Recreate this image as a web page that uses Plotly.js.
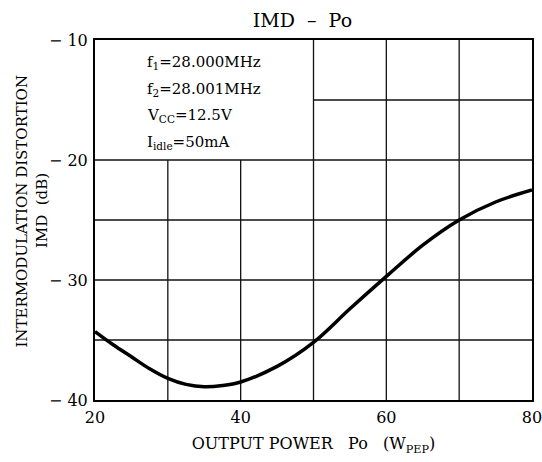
<!DOCTYPE html>
<html><head><meta charset="utf-8">
<script src="https://cdn.plot.ly/plotly-3.0.1.min.js"></script>
<style>html,body{margin:0;padding:0;background:#fff}</style>
</head><body>
<div id="chart" style="width:542px;height:462px"></div>
<script>
const powerW = [20, 22.5, 25, 27.5, 30, 32.5, 35, 37.5, 40, 45, 50, 55, 60, 65, 70, 75, 80];
const imdDb  = [-34.3, -35.4, -36.4, -37.4, -38.2, -38.7, -38.9, -38.8, -38.5, -37.2, -35.2, -32.4, -29.7, -27.1, -25.0, -23.5, -22.5];
const xTicks = [20, 40, 60, 80];
const yTicks = [-10, -20, -30, -40];
const yTickText = ['\u2212 10', '\u2212 20', '\u2212 30', '\u2212 40'];
const conditions = ['f<sub>1</sub>=28.000MHz', 'f<sub>2</sub>=28.001MHz', 'V<sub>CC</sub>=12.5V', 'I<sub>idle</sub>=50mA'];
const conditionY = [-11.9, -14.1, -16.3, -18.5];
const yTitleLines = ['INTERMODULATION DISTORTION', 'IMD  (dB)'];

const font = 'Century Schoolbook, "DejaVu Serif", "Liberation Serif", serif';

const trace = {
  x: powerW, y: imdDb, type: 'scatter', mode: 'lines',
  line: {color: '#000', width: 3.5, shape: 'spline', smoothing: 1},
  hoverinfo: 'skip', cliponaxis: true
};

const annotations = conditions.map((t, i) => ({
  x: 26.8, y: conditionY[i], xref: 'x', yref: 'y', text: t, showarrow: false,
  xanchor: 'left', yanchor: 'middle', font: {family: font, size: 15, color: '#000'}
}));
const yTitleX = [-0.168, -0.121];
yTitleLines.forEach((t, i) => annotations.push({
  xref: 'paper', yref: 'paper', x: yTitleX[i], y: 0.525, text: t,
  textangle: -90, showarrow: false, xanchor: 'center', yanchor: 'middle',
  font: {family: font, size: 15, color: '#000'}
}));

const layout = {
  width: 542, height: 462,
  margin: {l: 95, r: 10, t: 40, b: 62},
  paper_bgcolor: '#fff', plot_bgcolor: '#fff',
  showlegend: false,
  title: {text: 'IMD  \u2013  Po', font: {family: font, size: 19, color: '#000'}, x: 0.558, xanchor: 'center', y: 0.955, yanchor: 'middle'},
  xaxis: {
    range: [20, 80], tickvals: xTicks, ticktext: xTicks.map(String),
    showgrid: false, zeroline: false, showline: true, mirror: true, linecolor: '#000', linewidth: 2,
    ticks: '', ticklabelstandoff: 2, ticklabeloverflow: 'allow',
    tickfont: {family: font, size: 16, color: '#000'},
    title: {text: 'OUTPUT POWER   Po   (W<sub>PEP</sub>)', font: {family: font, size: 16, color: '#000'}, standoff: 12}
  },
  yaxis: {
    range: [-40, -10], tickvals: yTicks, ticktext: yTickText,
    showgrid: false, zeroline: false, showline: true, mirror: true, linecolor: '#000', linewidth: 2,
    ticks: '', ticklabelstandoff: 2, ticklabeloverflow: 'allow',
    tickfont: {family: font, size: 16, color: '#000'}
  },
  shapes: [],
  annotations: annotations
};

// grid lines (partial where the conditions box is)
const gridStyle = {color: '#111', width: 1.3};
[30, 40].forEach(v => layout.shapes.push({type: 'line', xref: 'x', yref: 'y', x0: v, x1: v, y0: -40, y1: -20, line: gridStyle, layer: 'below'}));
[50, 60, 70].forEach(v => layout.shapes.push({type: 'line', xref: 'x', yref: 'y', x0: v, x1: v, y0: -40, y1: -10, line: gridStyle, layer: 'below'}));
[-20, -25, -30, -35].forEach(v => layout.shapes.push({type: 'line', xref: 'x', yref: 'y', x0: 20, x1: 80, y0: v, y1: v, line: gridStyle, layer: 'below'}));
layout.shapes.push({type: 'line', xref: 'x', yref: 'y', x0: 50, x1: 80, y0: -15, y1: -15, line: gridStyle, layer: 'below'});

Plotly.newPlot('chart', [trace], layout, {displayModeBar: false, staticPlot: true});
</script>
</body></html>
